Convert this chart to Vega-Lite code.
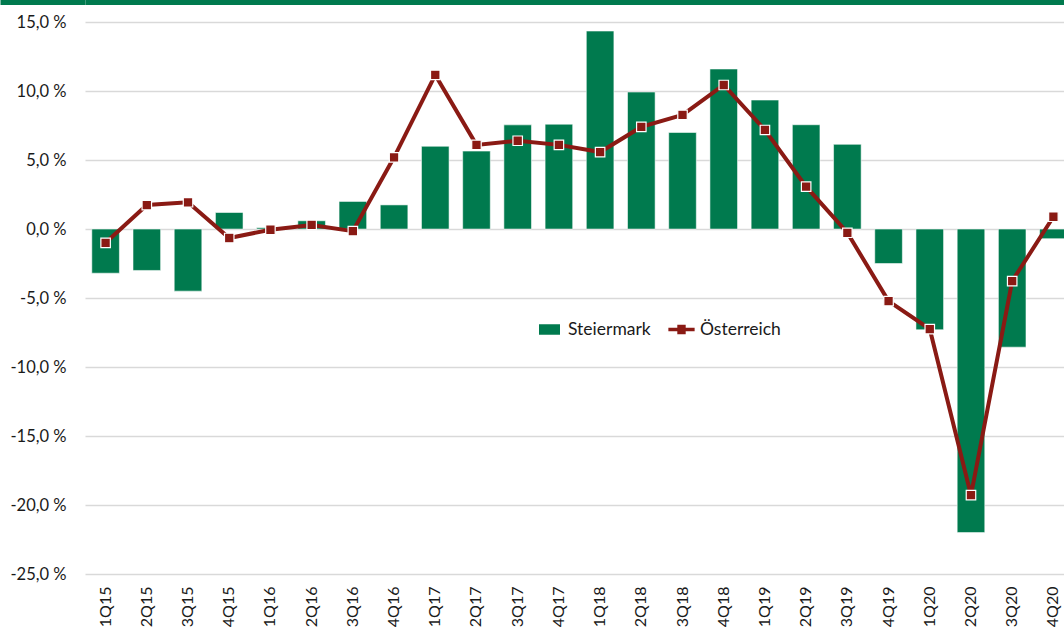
{
  "$schema": "https://vega.github.io/schema/vega-lite/v6.json",
  "width": 979,
  "height": 628,
  "autosize": {"type": "none"},
  "padding": {"left": 85, "top": 0, "right": 0, "bottom": 0},
  "background": "white",
  "config": {
    "view": {"stroke": null},
    "font": "Lato",
    "axis": {"labelFont": "Lato", "labelColor": "#1a1a1a"},
    "legend": {"labelFont": "Lato"}
  },
  "data": {
    "values": [
      {"q": "1Q15", "series": "Steiermark", "v": -3.2},
      {"q": "2Q15", "series": "Steiermark", "v": -3.0},
      {"q": "3Q15", "series": "Steiermark", "v": -4.5},
      {"q": "4Q15", "series": "Steiermark", "v": 1.2},
      {"q": "1Q16", "series": "Steiermark", "v": 0.1},
      {"q": "2Q16", "series": "Steiermark", "v": 0.6},
      {"q": "3Q16", "series": "Steiermark", "v": 2.0},
      {"q": "4Q16", "series": "Steiermark", "v": 1.75},
      {"q": "1Q17", "series": "Steiermark", "v": 6.0},
      {"q": "2Q17", "series": "Steiermark", "v": 5.65},
      {"q": "3Q17", "series": "Steiermark", "v": 7.55},
      {"q": "4Q17", "series": "Steiermark", "v": 7.6},
      {"q": "1Q18", "series": "Steiermark", "v": 14.35},
      {"q": "2Q18", "series": "Steiermark", "v": 9.93},
      {"q": "3Q18", "series": "Steiermark", "v": 7.0},
      {"q": "4Q18", "series": "Steiermark", "v": 11.6},
      {"q": "1Q19", "series": "Steiermark", "v": 9.35},
      {"q": "2Q19", "series": "Steiermark", "v": 7.56},
      {"q": "3Q19", "series": "Steiermark", "v": 6.14},
      {"q": "4Q19", "series": "Steiermark", "v": -2.5},
      {"q": "1Q20", "series": "Steiermark", "v": -7.3},
      {"q": "2Q20", "series": "Steiermark", "v": -22.0},
      {"q": "3Q20", "series": "Steiermark", "v": -8.56},
      {"q": "4Q20", "series": "Steiermark", "v": -0.7},
      {"q": "1Q15", "series": "Österreich", "v": -1.0},
      {"q": "2Q15", "series": "Österreich", "v": 1.74},
      {"q": "3Q15", "series": "Österreich", "v": 1.94},
      {"q": "4Q15", "series": "Österreich", "v": -0.65},
      {"q": "1Q16", "series": "Österreich", "v": -0.05},
      {"q": "2Q16", "series": "Österreich", "v": 0.3},
      {"q": "3Q16", "series": "Österreich", "v": -0.15},
      {"q": "4Q16", "series": "Österreich", "v": 5.2},
      {"q": "1Q17", "series": "Österreich", "v": 11.17},
      {"q": "2Q17", "series": "Österreich", "v": 6.1},
      {"q": "3Q17", "series": "Österreich", "v": 6.4},
      {"q": "4Q17", "series": "Österreich", "v": 6.1},
      {"q": "1Q18", "series": "Österreich", "v": 5.58},
      {"q": "2Q18", "series": "Österreich", "v": 7.4},
      {"q": "3Q18", "series": "Österreich", "v": 8.27},
      {"q": "4Q18", "series": "Österreich", "v": 10.44},
      {"q": "1Q19", "series": "Österreich", "v": 7.18},
      {"q": "2Q19", "series": "Österreich", "v": 3.07},
      {"q": "3Q19", "series": "Österreich", "v": -0.27},
      {"q": "4Q19", "series": "Österreich", "v": -5.22},
      {"q": "1Q20", "series": "Österreich", "v": -7.25},
      {"q": "2Q20", "series": "Österreich", "v": -19.29},
      {"q": "3Q20", "series": "Österreich", "v": -3.77},
      {"q": "4Q20", "series": "Österreich", "v": 0.89}
    ]
  },
  "layer": [
    {
      "transform": [{"filter": "datum.series === 'Steiermark'"}],
      "mark": {"type": "bar", "stroke": "#ffffff", "strokeWidth": 1, "strokeOpacity": 0.55},
      "encoding": {
        "x": {
          "field": "q", "type": "ordinal", "sort": null,
          "scale": {"range": [0, 989], "paddingInner": 0.33, "paddingOuter": 0.165},
          "axis": {
            "orient": "bottom", "offset": -54, "title": null, "labelAngle": -90,
            "domain": false, "ticks": false, "labelPadding": 12, "labelFontSize": 16
          }
        },
        "y": {
          "field": "v", "type": "quantitative",
          "scale": {"domain": [-25, 16.6], "range": [574, 0], "nice": false, "zero": false},
          "axis": {
            "title": null,
            "values": [-25, -20, -15, -10, -5, 0, 5, 10, 15, 16.42],
            "labelExpr": "datum.value > 16 ? '' : replace(replace(format(datum.value, '.1f'), '.', ','), '\u2212', '-') + ' %'",
            "domain": false,
            "grid": true,
            "gridColor": {"condition": {"test": "datum.value > 16", "value": "#007A4E"}, "value": "#d9d9d9"},
            "gridWidth": {"condition": {"test": "datum.value > 16", "value": 5}, "value": 1.4},
            "ticks": true,
            "tickSize": 85,
            "tickWidth": 5,
            "tickColor": {"condition": {"test": "datum.value > 16", "value": "#007A4E"}, "value": "transparent"},
            "labelPadding": -66,
            "labelFontSize": 16.5,
            "labelOverlap": false
          }
        },
        "color": {
          "field": "series", "type": "nominal",
          "scale": {"domain": ["Steiermark", "Österreich"], "range": ["#007A4E", "#8A1A14"]},
          "legend": {
            "title": null, "orient": "none", "legendX": 454, "legendY": 319,
            "direction": "horizontal", "labelFontSize": 17.5, "labelColor": "#1a1a1a",
            "symbolSize": 441, "labelOffset": 8, "columnPadding": 17,
            "symbolType": {"expr": "datum.value === 'Steiermark' ? 'M-1,-0.5H1V0.5H-1Z' : 'M-1.25,-0.17H-0.4V-0.45H0.4V-0.17H1.25V0.17H0.4V0.45H-0.4V0.17H-1.25Z'"},
            "symbolStrokeWidth": 0,
            "symbolOpacity": 1
          }
        }
      }
    },
    {
      "transform": [{"filter": "datum.series === 'Österreich'"}],
      "mark": {"type": "line", "strokeWidth": 4},
      "encoding": {
        "x": {"field": "q", "type": "ordinal", "sort": null},
        "y": {"field": "v", "type": "quantitative"},
        "color": {"field": "series", "type": "nominal"}
      }
    },
    {
      "transform": [{"filter": "datum.series === 'Österreich'"}],
      "mark": {"type": "square", "filled": true, "size": 90, "stroke": "#ffffff", "strokeWidth": 1.2, "opacity": 1},
      "encoding": {
        "x": {"field": "q", "type": "ordinal", "sort": null},
        "y": {"field": "v", "type": "quantitative"},
        "color": {"field": "series", "type": "nominal"}
      }
    }
  ]
}
